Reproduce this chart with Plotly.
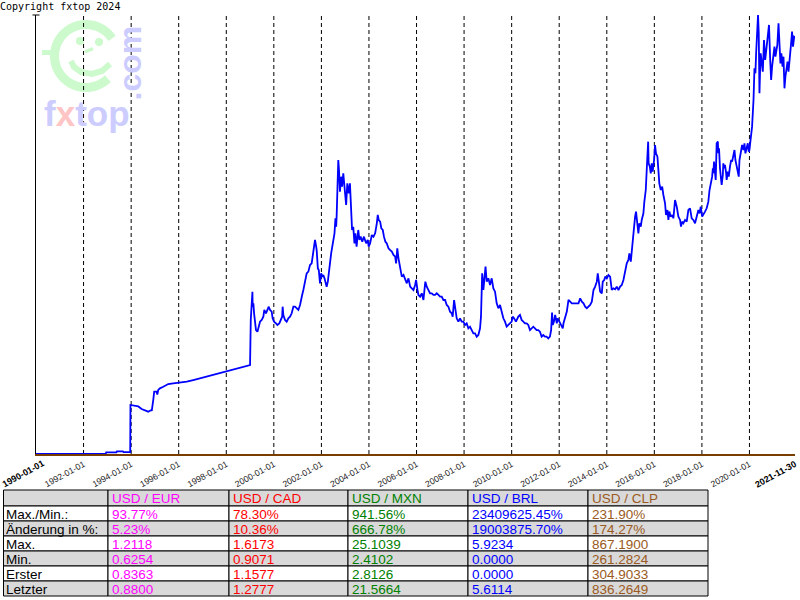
import numpy as np
import plotly.graph_objects as go
from datetime import datetime

# ---------------- data ----------------
# time in decimal years, USD/BRL value
t_years = [
    1990.00, 1992.93, 1992.95, 1993.38, 1993.40, 1993.55, 1993.57, 1993.65, 1993.68, 1993.96,
    1993.97, 1994.10, 1994.30, 1994.44, 1994.58, 1994.72, 1994.80, 1994.87, 1994.93, 1994.97,
    1995.07, 1995.10, 1995.14, 1995.21, 1995.35, 1995.56, 1995.77, 1996.06, 1996.34, 1996.61,
    1997.00, 1997.50, 1998.00, 1998.58, 1999.00,
    1999.03, 1999.07, 1999.10, 1999.11, 1999.14, 1999.17, 1999.21, 1999.25, 1999.31, 1999.35,
    1999.42, 1999.49, 1999.56, 1999.60, 1999.67, 1999.73, 1999.78, 1999.84, 1999.91, 1999.95,
    2000.01, 2000.09, 2000.15, 2000.23, 2000.29, 2000.35, 2000.37, 2000.40, 2000.47, 2000.54,
    2000.61, 2000.68, 2000.75, 2000.82, 2000.89, 2000.96, 2001.03, 2001.10, 2001.14, 2001.19,
    2001.24, 2001.31, 2001.38, 2001.45, 2001.52, 2001.59, 2001.66, 2001.73, 2001.78, 2001.80,
    2001.85, 2001.89, 2001.94, 2001.99, 2002.03, 2002.08, 2002.13, 2002.17, 2002.22, 2002.27,
    2002.31, 2002.36, 2002.41, 2002.45, 2002.50, 2002.55, 2002.59, 2002.62, 2002.64, 2002.67,
    2002.71, 2002.74, 2002.78, 2002.83, 2002.87, 2002.92, 2002.99, 2003.04, 2003.09, 2003.15,
    2003.20, 2003.25, 2003.29, 2003.34, 2003.39, 2003.43, 2003.48, 2003.55, 2003.60, 2003.65,
    2003.72, 2003.79, 2003.88, 2003.95, 2003.99, 2004.05, 2004.12, 2004.19, 2004.26, 2004.33,
    2004.37, 2004.41, 2004.47, 2004.52, 2004.58, 2004.63, 2004.69, 2004.75, 2004.82, 2004.89,
    2004.96, 2005.03, 2005.10, 2005.14, 2005.17, 2005.19, 2005.24, 2005.28, 2005.34, 2005.38,
    2005.45, 2005.52, 2005.59, 2005.66, 2005.73, 2005.80, 2005.87, 2005.94, 2005.98, 2006.04,
    2006.08, 2006.15, 2006.22, 2006.29, 2006.33, 2006.37, 2006.43, 2006.50, 2006.57, 2006.64,
    2006.71, 2006.78, 2006.85, 2006.92, 2006.99, 2007.06, 2007.13, 2007.20, 2007.27, 2007.34,
    2007.41, 2007.48, 2007.52, 2007.58, 2007.62, 2007.69, 2007.76, 2007.83, 2007.90, 2007.97,
    2008.04, 2008.11, 2008.18, 2008.25, 2008.32, 2008.39, 2008.46, 2008.53, 2008.60, 2008.67,
    2008.71, 2008.74, 2008.76, 2008.81, 2008.85, 2008.90, 2008.95, 2009.02, 2009.09, 2009.16,
    2009.23, 2009.30, 2009.37, 2009.44, 2009.51, 2009.58, 2009.65, 2009.72, 2009.79, 2009.86,
    2009.93, 2010.00, 2010.04, 2010.10, 2010.18, 2010.28, 2010.35, 2010.42, 2010.49, 2010.56,
    2010.63, 2010.70, 2010.77, 2010.84, 2010.91, 2010.98, 2011.05, 2011.12, 2011.19, 2011.26,
    2011.33, 2011.40, 2011.47, 2011.54, 2011.61, 2011.66, 2011.70, 2011.73, 2011.78, 2011.83,
    2011.87, 2011.90, 2011.94, 2011.98, 2012.04, 2012.11, 2012.15, 2012.18, 2012.25, 2012.32,
    2012.39, 2012.46, 2012.53, 2012.60, 2012.67, 2012.74, 2012.81, 2012.88, 2012.95, 2013.02,
    2013.09, 2013.16, 2013.23, 2013.30, 2013.37, 2013.44, 2013.51, 2013.58, 2013.62, 2013.68,
    2013.72, 2013.79, 2013.83, 2013.89, 2013.94, 2014.00, 2014.07, 2014.14, 2014.21, 2014.28,
    2014.35, 2014.42, 2014.49, 2014.56, 2014.63, 2014.70, 2014.77, 2014.84, 2014.91, 2014.95,
    2015.01, 2015.05, 2015.09, 2015.15, 2015.19, 2015.23, 2015.29, 2015.33, 2015.37, 2015.43,
    2015.47, 2015.54, 2015.58, 2015.64, 2015.68, 2015.71, 2015.74, 2015.76, 2015.81, 2015.85,
    2015.89, 2015.93, 2015.99, 2016.03, 2016.07, 2016.13, 2016.17, 2016.21, 2016.27, 2016.33,
    2016.38, 2016.45, 2016.49, 2016.55, 2016.59, 2016.63, 2016.69, 2016.75, 2016.80, 2016.87,
    2016.94, 2017.01, 2017.08, 2017.12, 2017.17, 2017.22, 2017.29, 2017.36, 2017.43, 2017.50,
    2017.57, 2017.64, 2017.71, 2017.78, 2017.85, 2017.90, 2017.95, 2018.01, 2018.06, 2018.13,
    2018.20, 2018.27, 2018.32, 2018.39, 2018.43, 2018.46, 2018.48, 2018.51, 2018.55, 2018.58,
    2018.62, 2018.67, 2018.69, 2018.72, 2018.76, 2018.81, 2018.83, 2018.88, 2018.90, 2018.95,
    2018.97, 2019.02, 2019.04, 2019.09, 2019.13, 2019.18, 2019.23, 2019.27, 2019.32, 2019.37,
    2019.41, 2019.46, 2019.51, 2019.55, 2019.58, 2019.60, 2019.65, 2019.69, 2019.75, 2019.79,
    2019.83, 2019.89, 2019.93, 2019.97, 2020.00, 2020.03, 2020.07, 2020.11, 2020.14, 2020.17,
    2020.21, 2020.25, 2020.28, 2020.31, 2020.33, 2020.36, 2020.39, 2020.42, 2020.45, 2020.47,
    2020.52, 2020.56, 2020.59, 2020.61, 2020.66, 2020.70, 2020.74, 2020.78, 2020.82, 2020.87,
    2020.91, 2020.95, 2021.01, 2021.05, 2021.09, 2021.13, 2021.17, 2021.22, 2021.26, 2021.30,
    2021.34, 2021.39, 2021.43, 2021.47, 2021.51, 2021.55, 2021.60, 2021.64, 2021.68, 2021.71,
    2021.75, 2021.79, 2021.83, 2021.88, 2021.91,
]
usd_brl = [
    0.000, 0.000, 0.023, 0.023, 0.036, 0.036, 0.030, 0.036, 0.025, 0.025,
    0.660, 0.655, 0.640, 0.606, 0.590, 0.570, 0.585, 0.590, 0.727, 0.839,
    0.839, 0.800, 0.862, 0.884, 0.905, 0.942, 0.951, 0.960, 0.975, 0.996,
    1.030, 1.075, 1.120, 1.167, 1.198,
    1.804, 2.118, 2.185, 1.983, 2.029, 1.894, 1.781, 1.669, 1.647, 1.714,
    1.781, 1.804, 1.848, 1.939, 1.894, 1.939, 1.983, 1.939, 1.917, 1.827,
    1.781, 1.759, 1.737, 1.759, 1.804, 1.848, 1.983, 1.871, 1.804, 1.781,
    1.827, 1.848, 1.894, 1.983, 1.983, 1.961, 1.939, 2.006, 2.051, 2.141,
    2.208, 2.320, 2.432, 2.455, 2.544, 2.567, 2.746, 2.881, 2.791, 2.746,
    2.499, 2.477, 2.298, 2.432, 2.387, 2.410, 2.365, 2.320, 2.252, 2.320,
    2.477, 2.567, 2.701, 2.791, 2.903, 2.971, 3.173, 3.060, 3.195, 3.464,
    3.958, 3.823, 3.531, 3.733, 3.599, 3.779, 3.487, 3.352, 3.643, 3.509,
    3.643, 3.195, 3.016, 3.060, 2.836, 2.971, 2.791, 3.016, 2.881, 2.926,
    2.858, 2.926, 2.836, 2.881, 2.791, 2.836, 2.948, 2.926, 2.971, 3.105,
    3.218, 3.150, 3.128, 3.038, 3.016, 2.926, 2.858, 2.836, 2.769, 2.746,
    2.724, 2.679, 2.657, 2.567, 2.746, 2.769, 2.634, 2.544, 2.477, 2.387,
    2.410, 2.343, 2.298, 2.365, 2.253, 2.230, 2.208, 2.275, 2.343, 2.208,
    2.141, 2.118, 2.163, 2.073, 2.163, 2.320, 2.253, 2.208, 2.163, 2.163,
    2.141, 2.141, 2.163, 2.141, 2.118, 2.118, 2.073, 2.073, 2.006, 1.984,
    1.916, 1.894, 1.849, 2.073, 1.961, 1.827, 1.782, 1.827, 1.782, 1.782,
    1.737, 1.759, 1.692, 1.714, 1.669, 1.625, 1.625, 1.580, 1.602, 1.692,
    1.849, 2.208, 2.432, 2.208, 2.365, 2.522, 2.320, 2.365, 2.275, 2.365,
    2.230, 2.185, 2.028, 1.961, 2.006, 1.894, 1.827, 1.782, 1.714, 1.737,
    1.759, 1.782, 1.849, 1.827, 1.782, 1.849, 1.871, 1.804, 1.782, 1.759,
    1.759, 1.737, 1.669, 1.692, 1.714, 1.692, 1.669, 1.669, 1.647, 1.580,
    1.602, 1.580, 1.580, 1.557, 1.580, 1.669, 1.903, 1.737, 1.782, 1.872,
    1.804, 1.760, 1.827, 1.804, 1.760, 1.715, 1.692, 1.760, 1.827, 1.917,
    2.074, 2.051, 2.029, 2.029, 2.029, 2.029, 2.029, 2.096, 2.051, 2.029,
    1.984, 1.962, 1.984, 2.006, 2.051, 2.208, 2.253, 2.320, 2.433, 2.298,
    2.186, 2.163, 2.320, 2.343, 2.388, 2.365, 2.410, 2.388, 2.208, 2.231,
    2.217, 2.253, 2.208, 2.253, 2.276, 2.343, 2.477, 2.567, 2.612, 2.702,
    2.590, 2.747, 2.881, 3.016, 3.195, 3.263, 3.016, 2.971, 3.106, 3.061,
    3.151, 3.240, 3.397, 3.554, 3.824, 4.093, 4.205, 3.913, 3.868, 3.779,
    3.913, 3.801, 3.958, 4.160, 4.048, 4.003, 3.868, 3.644, 3.554, 3.599,
    3.487, 3.375, 3.218, 3.285, 3.151, 3.263, 3.195, 3.218, 3.173, 3.420,
    3.330, 3.195, 3.151, 3.061, 3.128, 3.106, 3.151, 3.128, 3.285, 3.308,
    3.173, 3.151, 3.106, 3.195, 3.285, 3.240, 3.330, 3.195, 3.218, 3.263,
    3.308, 3.397, 3.554, 3.667, 3.734, 3.846, 3.779, 3.936, 3.824, 3.689,
    4.183, 4.205, 4.048, 4.115, 3.846, 3.689, 3.622, 3.756, 3.913, 3.846,
    3.891, 3.779, 3.689, 3.801, 3.734, 3.868, 3.958, 3.936, 4.003, 4.093,
    3.958, 3.891, 3.824, 3.734, 3.958, 4.003, 4.138, 4.160, 4.093, 4.183,
    4.048, 4.138, 4.183, 4.070, 4.093, 4.183, 4.272, 4.407, 4.587, 4.766,
    5.192, 5.125, 5.394, 5.574, 5.843, 5.910, 5.663, 4.856, 5.215, 5.394,
    5.259, 5.147, 5.394, 5.574, 5.304, 5.439, 5.574, 5.663, 5.776, 5.304,
    5.035, 5.215, 5.394, 5.484, 5.349, 5.461, 5.506, 5.798, 5.574, 5.259,
    5.394, 5.215, 5.349, 4.923, 5.080, 5.147, 5.282, 5.147, 5.259, 5.417,
    5.529, 5.686, 5.484, 5.618, 5.611,
]

tick_dates = ["1990-01-01", "1992-01-01", "1994-01-01", "1996-01-01", "1998-01-01",
              "2000-01-01", "2002-01-01", "2004-01-01", "2006-01-01", "2008-01-01",
              "2010-01-01", "2012-01-01", "2014-01-01", "2016-01-01", "2018-01-01",
              "2020-01-01", "2021-11-30"]
tick_labels = list(tick_dates)

# statistics table
row_labels = ["Max./Min.:", "Änderung in %:", "Max.", "Min.", "Erster", "Letzter"]
pairs = ["USD / EUR", "USD / CAD", "USD / MXN", "USD / BRL", "USD / CLP"]
pair_colors = ["#ff00ff", "#ff0000", "#008000", "#0000ff", "#9a5a22"]
stats_eur = ["93.77%", "5.23%", "1.2118", "0.6254", "0.8363", "0.8800"]
stats_cad = ["78.30%", "10.36%", "1.6173", "0.9071", "1.1577", "1.2777"]
stats_mxn = ["941.56%", "666.78%", "25.1039", "2.4102", "2.8126", "21.5664"]
stats_brl = ["23409625.45%", "19003875.70%", "5.9234", "0.0000", "0.0000", "5.6114"]
stats_clp = ["231.90%", "174.27%", "867.1900", "261.2824", "304.9033", "836.2649"]
stats_columns = [stats_eur, stats_cad, stats_mxn, stats_brl, stats_clp]

# ---------------- helpers ----------------
W, H = 800, 600


def to_date(t):
    y = int(t)
    a, b = datetime(y, 1, 1), datetime(y + 1, 1, 1)
    return a + (b - a) * (t - y)


def px(x, y):
    return x / W, 1 - y / H


dates = [to_date(t) for t in t_years]

PLOT_L, PLOT_R, PLOT_T, PLOT_B = 36, 795, 15, 454

fig = go.Figure()
fig.add_trace(go.Scatter(x=dates, y=usd_brl, mode="lines",
                         line=dict(color="#0000ff", width=1.8),
                         hoverinfo="skip", showlegend=False))

shapes = []
annotations = []

# ---- watermark logo ----
green = "#ccfacc"
lblue = "#ccccff"
cx, cy, r = 86, 56, 31.5
ang = np.radians(np.linspace(34, 314, 48))
pts = [px(cx + r * np.cos(a), cy - r * np.sin(a)) for a in ang]
shapes.append(dict(type="path", xref="paper", yref="paper", layer="below",
                   path="M " + " L ".join(f"{x:.5f},{y:.5f}" for x, y in pts),
                   line=dict(color=green, width=9)))
p0, p1 = px(42, 52.5), px(56, 52.5)
shapes.append(dict(type="line", xref="paper", yref="paper", layer="below",
                   x0=p0[0], y0=p0[1], x1=p1[0], y1=p1[1], line=dict(color=green, width=5)))
for ex, ey in ((80, 41), (99, 42)):
    a0, a1 = px(ex - 4, ey - 4), px(ex + 4, ey + 4)
    shapes.append(dict(type="circle", xref="paper", yref="paper", layer="below",
                       x0=a0[0], y0=a0[1], x1=a1[0], y1=a1[1],
                       fillcolor=green, line=dict(width=0)))
n0, n1 = px(85, 52), px(93, 48.5)
shapes.append(dict(type="line", xref="paper", yref="paper", layer="below",
                   x0=n0[0], y0=n0[1], x1=n1[0], y1=n1[1], line=dict(color=green, width=3.5)))
mouth = [px(*p) for p in [(71, 61), (74, 67), (81, 72), (92, 74), (102, 71), (110, 64)]]
shapes.append(dict(type="path", xref="paper", yref="paper", layer="below",
                   path="M " + " L ".join(f"{x:.5f},{y:.5f}" for x, y in mouth),
                   line=dict(color=green, width=6)))

cpos = px(129, 63.5)
annotations.append(dict(text="<b>.com</b>", x=cpos[0], y=cpos[1], xref="paper", yref="paper",
                        xanchor="center", yanchor="middle", showarrow=False, textangle=-90,
                        font=dict(family="Liberation Sans, Arial", size=32, color=lblue)))
fpos = px(86.5, 113)
annotations.append(dict(text="<b>f<span style='color:#ffc4c4'>x</span>top</b>",
                        x=fpos[0], y=fpos[1], xref="paper", yref="paper",
                        xanchor="center", yanchor="middle", showarrow=False,
                        font=dict(family="Liberation Sans, Arial", size=35, color=lblue)))

# ---- dashed vertical grid lines ----
for d in tick_dates[1:-1]:
    shapes.append(dict(type="line", xref="x", yref="y domain", x0=d, x1=d, y0=0, y1=1,
                       layer="below", line=dict(color="black", width=1, dash="4px,3px")))

# ---- y axis top cap ----
c0, c1 = px(32.5, PLOT_T), px(39.5, PLOT_T)
shapes.append(dict(type="line", xref="paper", yref="paper", x0=c0[0], y0=c0[1],
                   x1=c1[0], y1=c1[1], line=dict(color="black", width=1)))

# ---- copyright ----
annotations.append(dict(text="Copyright fxtop 2024", x=0, y=1, xref="paper", yref="paper",
                        xanchor="left", yanchor="top", showarrow=False, xshift=-2, yshift=1,
                        font=dict(family="DejaVu Sans Mono", size=10, color="black")))

# ---- statistics table ----
col_edges = [3.5, 108, 229, 348, 468, 588, 708]
row_edges = [490, 506, 521, 536, 551, 566, 581, 596]
gray = "#d9d9d9"
tfont = "Liberation Sans, Arial"
for ri in range(7):
    for ci in range(6):
        a0 = px(col_edges[ci], row_edges[ri + 1])
        a1 = px(col_edges[ci + 1], row_edges[ri])
        shapes.append(dict(type="rect", xref="paper", yref="paper",
                           x0=a0[0], y0=a0[1], x1=a1[0], y1=a1[1],
                           fillcolor=gray if ri % 2 == 0 else "white",
                           line=dict(color="black", width=1)))
        if ri == 0:
            if ci == 0:
                continue
            txt, col = pairs[ci - 1], pair_colors[ci - 1]
        elif ci == 0:
            txt, col = row_labels[ri - 1], "black"
        else:
            txt, col = stats_columns[ci - 1][ri - 1], pair_colors[ci - 1]
        pad = 0.5 if ci == 0 else 1.5
        tx, ty = px(col_edges[ci] + pad, (row_edges[ri] + row_edges[ri + 1]) / 2 + 0.5)
        annotations.append(dict(text=txt, x=tx, y=ty, xref="paper", yref="paper",
                                xanchor="left", yanchor="middle", showarrow=False,
                                font=dict(family=tfont, size=13.5, color=col)))

# first axis label drawn as a rotated text so that it stays inside the page
lpos = px(22.5, 473.5)
annotations.append(dict(text=f"<b>{tick_labels[0]}</b>", x=lpos[0], y=lpos[1],
                        xref="paper", yref="paper", xanchor="center", yanchor="middle",
                        showarrow=False, textangle=-29,
                        font=dict(family="Liberation Sans, Arial", size=9, color="black")))

tick_text = [""]
for i, lab in enumerate(tick_labels[1:], start=1):
    if i == len(tick_labels) - 1:
        tick_text.append(f"<b><span style='color:black;font-size:9px'>{lab}</span></b>")
    else:
        tick_text.append(lab)

fig.update_layout(
    width=W, height=H, margin=dict(l=0, r=0, t=0, b=0, autoexpand=False),
    paper_bgcolor="white", plot_bgcolor="white", showlegend=False,
    xaxis=dict(type="date", range=["1989-12-31 12:00", "2021-11-30 12:00"],
               domain=[PLOT_L / W, PLOT_R / W], showline=True, linecolor="#7a3d00",
               linewidth=2, showgrid=False, zeroline=False, ticks="", automargin=False,
               tickmode="array", tickvals=tick_dates, ticktext=tick_text,
               ticklabeloverflow="allow",
               tickangle=-29, tickfont=dict(family="Liberation Sans, Arial", size=8.7,
                                            color="#222222")),
    yaxis=dict(range=[0, 5.91], domain=[1 - PLOT_B / H, 1 - PLOT_T / H], showline=True,
               linecolor="black", linewidth=1, showgrid=False, zeroline=False,
               showticklabels=False, ticks="", automargin=False),
    shapes=shapes, annotations=annotations,
)

fig.write_html("out.html")
